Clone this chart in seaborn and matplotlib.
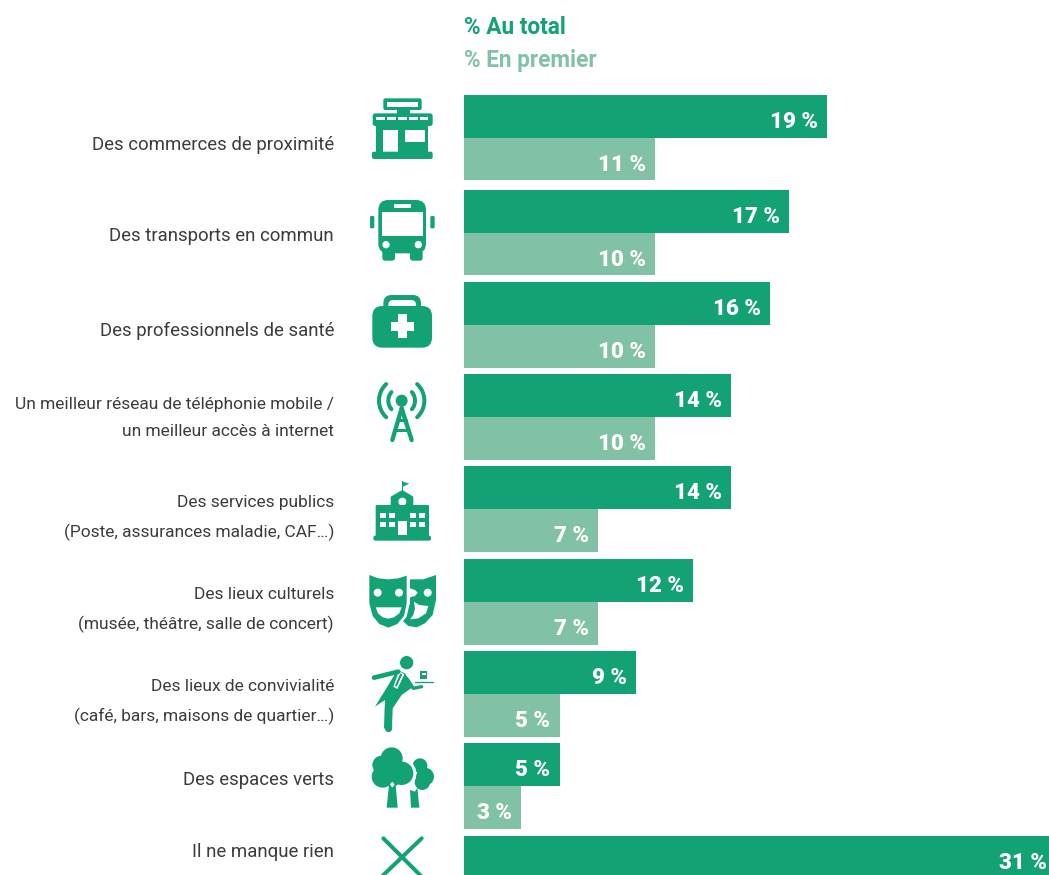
import numpy as np
import pandas as pd
import matplotlib
matplotlib.use("Agg")
import matplotlib.pyplot as plt
import seaborn as sns
from matplotlib.patches import Arc, Circle, FancyBboxPatch, Polygon, Rectangle

# donnees
categories = ["Des commerces de proximité", "Des transports en commun", "Des professionnels de santé",
              "Un meilleur réseau de téléphonie mobile /\nun meilleur accès à internet",
              "Des services publics\n(Poste, assurances maladie, CAF…)",
              "Des lieux culturels\n(musée, théâtre, salle de concert)",
              "Des lieux de convivialité\n(café, bars, maisons de quartier…)",
              "Des espaces verts", "Il ne manque rien"]
au_total = [19, 17, 16, 14, 14, 12, 9, 5, 31]
en_premier = [10, 10, 10, 10, 7, 7, 5, 3, np.nan]
labels_total = ["19 %", "17 %", "16 %", "14 %", "14 %", "12 %", "9 %", "5 %", "31 %"]
labels_premier = ["11 %", "10 %", "10 %", "10 %", "7 %", "7 %", "5 %", "3 %"]

VERT = "#12A276"
CLAIR = "#81C1A5"
TEXTE = "#3C3C3B"

sns.set_theme(style="white")

df = pd.DataFrame({
    "item": categories * 2,
    "valeur": au_total + en_premier,
    "serie": ["% Au total"] * 9 + ["% En premier"] * 9,
})

fig = plt.figure(figsize=(10.49, 8.75), dpi=100)
ax = fig.add_axes([464 / 1049, 0, 585 / 1049, 1])
sns.barplot(data=df, y="item", x="valeur", hue="serie", palette=[VERT, CLAIR], width=0.93, gap=0,
            saturation=1, legend=False, linewidth=0, edgecolor="none", ax=ax)
ax.set_xlim(0, 585 / 19.1)
ax.set_ylim((875 - 140.2) / 92.3, -140.2 / 92.3)
ax.axis("off")

# la premiere ligne est un peu plus haute que les autres
for cont in ax.containers:
    cont[0].set_y(cont[0].get_y() - 2.7 / 92.3)

for cont, labs in zip(ax.containers, [labels_total, labels_premier]):
    for bar, lab in zip(cont, labs):
        ax.annotate(lab, (bar.get_width(), bar.get_y() + bar.get_height() / 2), xytext=(-6.5, -4),
                    textcoords="offset points", ha="right", va="center", color="white",
                    fontsize=16, family="Roboto", weight="black", annotation_clip=False)

# calque en pixels pour les textes et les icones
ov = fig.add_axes([0, 0, 1, 1], facecolor="none")
ov.set_xlim(0, 1049)
ov.set_ylim(875, 0)
ov.axis("off")

ov.text(464, 27, "% Au total", color=VERT, fontsize=16.3, family="Roboto", weight="bold", va="center")
ov.text(464, 60, "% En premier", color=CLAIR, fontsize=16.3, family="Roboto", weight="bold", va="center")

label_y = [145, 236, 331, 418, 518, 610, 702, 780, 852]
for txt, y in zip(categories, label_y):
    ov.text(334, y, txt, ha="right", va="center", color=TEXTE, fontsize=12.5 if "\n" in txt else 13.4,
            family="Roboto", linespacing=1.95)


# les icones sont relevees sur des zooms x3 : ox, oy = origine du zoom
def P(ox, oy, x, y):
    return ox + x / 3, oy + y / 3

def box(o, x0, y0, x1, y1, c=VERT, r=0):
    x, y = P(*o, x0, y0)
    w, h = (x1 - x0) / 3, (y1 - y0) / 3
    if r:
        ov.add_patch(FancyBboxPatch((x, y), w, h, boxstyle=f"round,pad=0,rounding_size={r / 3}", fc=c, ec="none"))
    else:
        ov.add_patch(Rectangle((x, y), w, h, fc=c, ec="none"))

def poly(o, pts, c=VERT):
    ov.add_patch(Polygon([P(*o, *p) for p in pts], closed=True, fc=c, ec="none"))

def circ(o, x, y, r, c=VERT):
    ov.add_patch(Circle(P(*o, x, y), r / 3, fc=c, ec="none"))

def trait(o, pts, lw, c=VERT):
    xy = np.array([P(*o, *p) for p in pts])
    ov.plot(xy[:, 0], xy[:, 1], color=c, lw=lw / 3 * 0.72, solid_capstyle="round", solid_joinstyle="round")

def arc(o, x, y, r, a0, a1, lw, c=VERT):
    ov.add_patch(Arc(P(*o, x, y), 2 * r / 3, 2 * r / 3, theta1=a0, theta2=a1, color=c, lw=lw / 3 * 0.72,
                     capstyle="round"))


# commerce
o = (360, 90)
box(o, 70, 25, 185, 60, r=6)
box(o, 80, 35, 175, 50, "white")
box(o, 110, 60, 150, 72)
box(o, 48, 100, 205, 190)
box(o, 38, 70, 218, 108, r=8)
for sx in [62, 94, 127, 160, 192]:
    box(o, sx - 13, 82, sx + 13, 90, "white")
box(o, 70, 120, 115, 186, "white")
box(o, 135, 120, 195, 156, "white", r=3)
box(o, 36, 185, 218, 207, r=6)

# bus
box(o, 55, 330, 198, 490, r=30)
box(o, 67, 367, 188, 438, "white")
box(o, 102, 343, 152, 355, "white")
box(o, 30, 378, 43, 415, r=4)
box(o, 211, 378, 224, 415, r=4)
circ(o, 78, 464, 11, "white")
circ(o, 175, 464, 11, "white")
box(o, 67, 480, 105, 512, r=8)
box(o, 150, 480, 188, 512, r=8)

# trousse
box(o, 70, 615, 183, 670, r=25)
box(o, 85, 630, 168, 670, "white", r=15)
box(o, 37, 648, 216, 773, r=30)
box(o, 93, 696, 162, 722, "white")
box(o, 115, 673, 140, 743, "white")

# antenne
o = (360, 370)
circ(o, 125, 92, 18)
for a0, a1, r in [(140, 220, 40), (320, 400, 40), (133, 227, 68), (313, 407, 68)]:
    arc(o, 125, 92, r, a0, a1, 12)
trait(o, [(125, 115), (97, 210)], 13)
trait(o, [(125, 115), (155, 210)], 13)
trait(o, [(113, 150), (137, 150)], 9)
trait(o, [(105, 180), (147, 180)], 9)

# mairie
box(o, 125, 333, 129, 375)
poly(o, [(129, 335), (148, 341), (129, 350)])
poly(o, [(92, 410), (92, 380), (127, 360), (160, 380), (160, 410)])
circ(o, 127, 395, 12, "white")
box(o, 47, 405, 207, 500, r=3)
box(o, 40, 497, 213, 512, r=6)
for wx in [60, 87, 150, 178]:
    for wy in [428, 455]:
        box(o, wx, wy, wx + 17, wy + 17, "white")
box(o, 115, 452, 140, 494, "white")

# masques
poly(o, [(150, 628), (190, 628), (228, 615), (228, 690), (218, 735), (195, 760), (170, 772), (145, 768),
         (125, 750), (150, 700)])
poly(o, [(150, 655), (165, 660), (173, 668), (165, 678), (150, 682)], "white")
circ(o, 203, 668, 12, "white")
poly(o, [(162, 695), (178, 705), (205, 708), (198, 730), (175, 745), (150, 748), (160, 735), (165, 715)], "white")
# contour blanc du masque de gauche
poly(o, [(140, 617), (148, 617), (148, 705), (140, 740), (118, 768), (100, 780), (85, 745)], "white")
poly(o, [(28, 615), (55, 625), (85, 628), (115, 625), (140, 617), (140, 700), (132, 738), (112, 762), (85, 773),
         (58, 762), (38, 738), (28, 700)])
circ(o, 53, 668, 12, "white")
circ(o, 117, 668, 12, "white")
poly(o, [(47, 712), (125, 712), (118, 730), (102, 742), (85, 746), (68, 742), (54, 730)], "white")

# serveur
o = (360, 645)
circ(o, 140, 53, 20)
trait(o, [(42, 98), (115, 80)], 14)
poly(o, [(112, 75), (135, 85), (160, 125), (125, 150), (98, 190), (95, 250), (72, 250), (75, 165), (45, 185),
         (85, 120)])
trait(o, [(84, 250), (84, 190)], 22)
trait(o, [(140, 100), (160, 130), (185, 125)], 10)
trait(o, [(165, 110), (218, 110)], 4)
box(o, 181, 78, 202, 103)
box(o, 185, 85, 198, 90, "white")
poly(o, [(117, 78), (133, 88), (112, 132), (100, 125)], "white")
poly(o, [(121, 85), (127, 88), (110, 125), (105, 122)])

# arbres
for x, y, r in [(180, 362, 22), (195, 395, 27), (187, 412, 23)]:
    circ(o, x, y, r)
poly(o, [(150, 435), (165, 440), (172, 428), (178, 488), (153, 488)])
circ(o, 125, 385, 44, "white")
for x, y, r in [(95, 340, 33), (65, 360, 28), (68, 395, 33), (125, 385, 35), (95, 395, 30)]:
    circ(o, x, y, r)
poly(o, [(87, 420), (107, 420), (113, 488), (80, 488)])
poly(o, [(97, 410), (104, 418), (97, 428), (90, 418)], "white")

# croix
trait(o, [(70, 580), (185, 695)], 12)
trait(o, [(185, 580), (65, 695)], 12)

fig.savefig("out.png", dpi=100)
